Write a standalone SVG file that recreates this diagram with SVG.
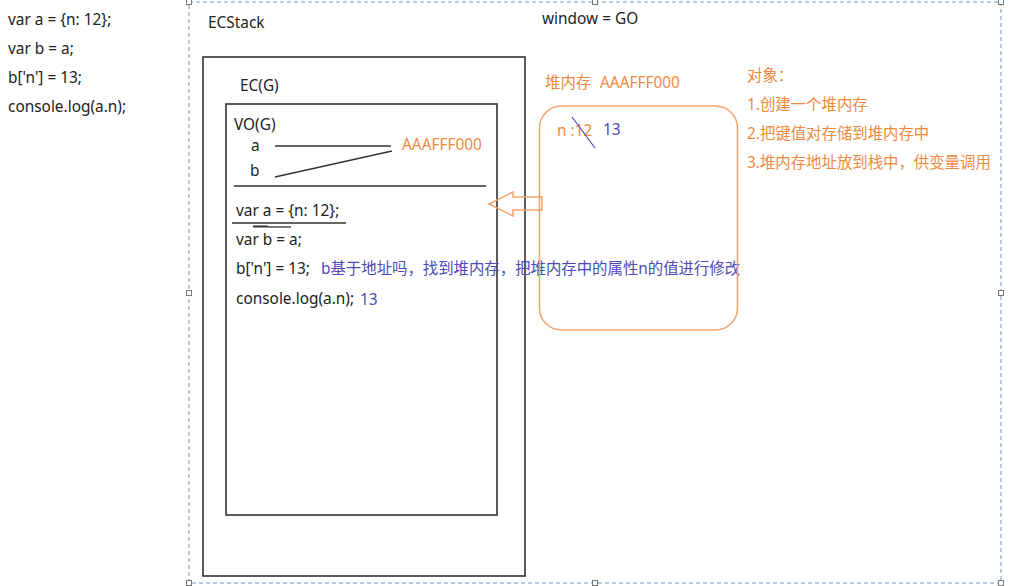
<svg xmlns="http://www.w3.org/2000/svg" width="1028" height="586" viewBox="0 0 1028 586">
<style>
text{font-family:"Noto Sans","Noto Sans CJK SC",sans-serif;font-size:15.4px;fill:#222}
.o{fill:#F0893F}
.bl{fill:#4B4BB8}
.box{fill:none;stroke:#333;stroke-width:1.6}
.ln{stroke:#333;stroke-width:1.3;fill:none}
.h{fill:#fff;stroke:#777;stroke-width:1}
</style>
<rect width="1028" height="586" fill="#fff"/>
<g id="code">
<text x="8" y="25">var a = {n: 12};</text>
<text x="8" y="54">var b = a;</text>
<text x="8" y="83">b['n'] = 13;</text>
<text x="8" y="112">console.log(a.n);</text>
</g>
<g id="selection">
<rect x="189" y="2" width="812" height="581" fill="none" stroke="#6F94BE" stroke-width="1" stroke-dasharray="4 3"/>
<rect class="h" x="186.5" y="-0.5" width="5" height="5"/>
<rect class="h" x="592.5" y="-0.5" width="5" height="5"/>
<rect class="h" x="998.5" y="-0.5" width="5" height="5"/>
<rect class="h" x="186.5" y="290.5" width="5" height="5"/>
<rect class="h" x="998.5" y="290.5" width="5" height="5"/>
<rect class="h" x="186.5" y="580.5" width="5" height="5"/>
<rect class="h" x="592.5" y="580.5" width="5" height="5"/>
<rect class="h" x="998.5" y="580.5" width="5" height="5"/>
</g>
<g id="ecstack">
<text x="208" y="28">ECStack</text>
<rect class="box" x="203" y="57" width="322" height="519"/>
</g>
<g id="window">
<text x="542" y="24">window = GO</text>
</g>
<g id="ecg">
<text x="240" y="91">EC(G)</text>
<rect class="box" x="226" y="104" width="271" height="411"/>
</g>
<g id="vog">
<text x="234" y="130">VO(G)</text>
<text x="251" y="151">a</text>
<text x="250" y="176">b</text>
<line class="ln" x1="234" y1="186" x2="486" y2="186"/>
<text class="o" x="402" y="150">AAAFFF000</text>
</g>
<g id="statements">
<text x="236" y="216">var a = {n: 12};</text>
<path class="ln" d="M232 223H346"/>
<path stroke="#333" stroke-width="2" d="M253 226.5H268"/>
<path class="ln" stroke-width="1" d="M268 227H291"/>
<text x="236" y="245">var b = a;</text>
<text x="236" y="274">b['n'] = 13;</text>
<text class="bl" x="321" y="274">b基于地址吗，找到堆内存，把堆内存中的属性n的值进行修改</text>
<text x="236" y="304">console.log(a.n);</text>
<text class="bl" x="360" y="305">13</text>
</g>
<g id="heap">
<text class="o" x="545" y="88">堆内存<tspan x="600">AAAFFF000</tspan></text>
<rect x="539.5" y="106" width="198" height="224" rx="22" fill="none" stroke="#F4A46A" stroke-width="1.5"/>
<text class="o" x="557" y="136">n :12</text>
<line x1="572" y1="117" x2="595" y2="148" stroke="#4B4BB8" stroke-width="1.2"/>
<text class="bl" x="603" y="135">13</text>
</g>
<g id="notes">
<text class="o" x="747" y="81">对象：</text>
<text class="o" x="747" y="110">1.创建一个堆内存</text>
<text class="o" x="747" y="139">2.把键值对存储到堆内存中</text>
<text class="o" x="747" y="168">3.堆内存地址放到栈中，供变量调用</text>
</g>
<g id="connectors">
<line class="ln" x1="275" y1="146" x2="391" y2="146"/>
<line class="ln" x1="275" y1="177" x2="392" y2="151"/>
<polygon points="489,204 513,192 513,197 542,197 542,210 513,210 513,216" fill="none" stroke="#F4A46A" stroke-width="1.5" stroke-linejoin="miter"/>
</g>
</svg>
